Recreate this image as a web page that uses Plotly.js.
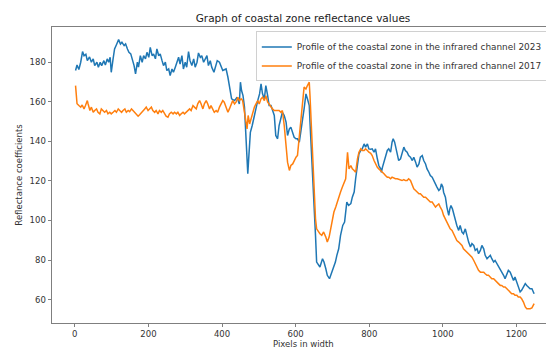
<!DOCTYPE html>
<html>
<head>
<meta charset="utf-8">
<script src="https://cdn.plot.ly/plotly-3.0.1.min.js"></script>
<style>
html, body { margin: 0; padding: 0; overflow: hidden; background: #fff; }
#chart { width: 570px; height: 349px; }
</style>
</head>
<body>
<div id="chart"></div>
<script>
// Pixel positions (x) and reflectance values, 2023 profile
const pixels2023 = [2,6,11,16,21,25,30,34,40,45,50,54,60,64,69,73,79,83,88,92,96,99,104,108,114,119,124,128,134,138,143,147,152,156,161,165,170,173,178,183,187,192,196,201,205,210,214,219,223,228,232,237,241,246,250,255,259,264,268,273,277,282,286,291,295,300,304,309,313,318,323,327,332,336,341,345,350,354,359,363,368,372,378,387,393,402,411,416,420,426,434,441,447,450,453,457,461,464,467,470,473,477,482,488,492,497,502,506,510,515,519,524,528,533,537,542,546,551,555,560,564,569,574,578,583,587,592,596,601,605,610,614,619,623,628,632,637,639,643,647,650,654,657,662,666,673,677,682,686,692,697,703,708,712,717,722,728,733,739,744,750,754,759,763,768,772,777,781,786,790,795,799,804,808,813,817,822,826,831,833,836,840,844,849,853,858,862,865,869,872,876,880,885,889,894,898,903,907,912,917,921,926,930,935,939,944,948,953,957,962,966,971,975,980,984,989,993,996,1000,1002,1007,1011,1016,1019,1022,1026,1029,1034,1038,1043,1047,1052,1056,1061,1065,1070,1075,1079,1084,1088,1093,1097,1102,1106,1111,1115,1120,1124,1129,1133,1138,1142,1147,1151,1156,1160,1165,1169,1174,1178,1183,1187,1192,1196,1201,1205,1210,1214,1219,1224,1228,1233,1237,1242,1246,1248];
const values2023 = [175.8,178.6,176.3,180,185.4,183.3,184,180.8,182.7,180,181.7,178.3,180,177.5,180,178.3,180.8,178.6,181.7,180,182.5,174.9,181.7,186.7,189.2,191.4,189.2,190.1,188.4,189.2,186.7,185,184.2,181.7,178.3,174.1,180,177.5,183.3,180,183.3,181.7,185,182.5,187.5,183.3,184.2,181.7,186.7,183.3,184.2,180.8,178.3,180,175.8,176.6,173.2,176.6,174.9,177.5,180,182.5,179.1,183.3,176.6,180,177.5,185.4,180.8,178.3,181.7,177.5,180,184.7,182.5,183.3,180,181.7,183.3,178.3,180.8,177.5,174.9,180.8,180,175.8,176.6,172.4,168.2,161.5,160.6,162.3,158.9,169.9,165.7,163.1,157.3,143,129.5,123.6,132.9,144.6,148,152.2,156.4,160.6,164,169,164,161.5,168.2,163.1,158.1,158.1,155.6,153.1,143,141.3,148,151.4,154.7,153.1,149.7,143,146.3,147.2,144.6,142.1,141.3,141.3,139.6,146.3,151.4,156.4,164,161.5,158.1,149.7,136.2,121.1,107.6,92.5,79,77.3,76.5,80.7,79,75.6,72.3,70.6,73.1,75.6,79,82.4,85.7,92.5,97.5,99.2,109.3,107.6,108.5,111.8,114.4,121.1,129.5,133.7,135.4,136.2,138.7,137.1,138.7,136.2,136,136.2,134.5,136.2,131.2,127.8,126.1,124.4,127,129.5,132.8,135.4,136.2,134.5,139.6,141.3,139.6,137.1,132.8,130.3,131.2,134.5,137.1,135.4,134.5,132.8,132,130.3,132,129.5,127,128.6,132,132.8,130.3,128.6,126.1,124.4,122.7,121.9,120.2,118.5,116.9,115.2,116,118.5,116.9,114.3,111.8,106.8,102.6,105.9,107.6,105.9,103.4,100,97.5,95,97.5,94.1,93.3,95.8,92.5,89.1,86.6,88.3,87.4,84.9,85.7,83.2,84.9,87.4,85.7,82.4,80.7,81.5,82.4,80.7,79,79.8,78.2,77.3,75.6,73.9,72.3,70.6,73.1,74.8,73.9,72.3,69.7,71.4,68.9,66.4,63.9,64.7,66.4,68.1,67.2,66.4,65.5,65.5,63.9,63];

// Pixel positions (x) and reflectance values, 2017 profile
const pixels2017 = [2,4,6,11,16,20,25,29,34,36,41,45,50,54,59,63,68,72,77,81,86,90,95,99,104,109,113,118,122,127,131,136,140,145,149,154,158,163,167,172,176,181,185,190,194,199,203,208,212,217,221,226,230,235,239,244,248,253,257,262,267,271,276,280,285,289,294,298,303,307,312,316,321,325,330,334,339,343,348,352,357,361,366,370,375,379,384,388,393,397,402,406,411,416,420,425,429,434,438,443,447,452,456,461,464,468,471,475,479,483,488,492,497,501,506,510,515,519,524,528,533,537,542,546,551,555,560,564,569,574,578,583,587,592,596,601,605,610,614,619,623,628,632,637,639,643,647,650,654,657,662,666,671,676,682,686,691,695,700,704,709,713,718,722,727,732,736,741,745,750,754,759,763,768,772,777,781,786,790,795,799,804,808,813,817,822,826,831,835,840,844,849,853,858,862,867,871,876,880,885,889,894,898,903,907,912,917,921,926,930,935,939,944,948,953,957,962,966,971,975,980,984,989,993,998,1002,1007,1011,1016,1020,1025,1029,1034,1038,1043,1047,1052,1056,1061,1065,1070,1075,1079,1084,1088,1093,1097,1102,1106,1111,1115,1120,1124,1129,1133,1138,1142,1147,1151,1156,1160,1165,1169,1174,1178,1183,1187,1192,1196,1201,1205,1210,1214,1219,1224,1228,1233,1237,1242,1246,1248];
const values2017 = [168.2,163.1,159,158.1,157.3,158.4,156.4,158.1,160.6,159,155.6,157.3,154.7,155.6,156.4,154.7,153.9,156.4,155.6,154.7,155.6,153.9,154.7,153.9,154.7,155.6,154.7,156.4,155.6,154.7,155.6,156.4,154.7,155.6,155,156.4,155.6,154.7,153.9,152.7,153.4,154.7,155.6,156.4,157.3,155.6,156.4,157.3,155.6,154.7,155.6,153.9,155.6,154.7,155.6,153.9,152.7,152.2,153.9,154.7,153.9,154.7,153.9,154.7,153.1,153.9,154.7,153.9,154.7,155.6,156.4,155.6,158.1,157.3,156.4,159,160.6,159,156.4,159,160.6,159,156.4,158.1,156.4,154.7,155.6,154.7,157.3,158.9,160.6,159.8,157.3,154.7,156.4,158.9,160.6,158.9,159.8,162.3,160.6,161.5,160.6,154.7,149.7,146.3,153.1,148.8,151.4,154.7,157.3,158.9,160.6,158.9,161.5,162.3,160.6,163.1,159.8,158.9,157.3,156.4,155.6,155.6,155.6,155.6,154.7,155.6,148,136.2,129.5,125.3,127.8,128.6,130.3,132,132.9,141.3,149.7,159.8,167.4,166.5,168.2,169.9,163.1,146.3,129.5,112.7,100.9,95.8,94.2,93.3,92.5,94.2,91.6,89.1,91.6,95.8,99.2,104.3,106.8,109.3,112.7,114.4,116.9,119.4,121.1,134.5,126.1,127.8,126.1,125.3,124.4,131.2,134.5,136.2,135.4,135.4,136.2,135.4,134.5,134,132.8,130.3,128.6,126.9,126.1,125.3,124.4,123.6,122.7,121.9,121.9,121.1,121.9,121.4,121.1,121.1,120.7,120.2,120.2,120.7,120.2,120.2,121.1,120.2,117.7,116,115.2,114.3,113.5,113.5,112.7,111.8,111.8,111,110.1,109.3,109.3,108.4,106.8,107.6,108.4,106.8,105.1,102.6,100.9,99.2,97.5,95.8,95,93.3,90.8,89.9,89.1,88.3,87.4,85.7,84.9,84.1,83.2,82.4,81.5,79.8,78.2,76.5,74.8,73.9,73.9,73.9,73.1,72.3,72.3,71.4,70.6,70.6,69.7,68.9,68.1,67.2,67.2,66.4,66.4,65.5,64.7,63.9,63,63,62.2,62.2,61.3,61.3,60.5,58.8,56.3,55.4,55.4,55.4,55.8,57.1,58];

const seriesNames = [
  "Profile of the coastal zone in the infrared channel 2023",
  "Profile of the coastal zone in the infrared channel 2017"
];
const yTickValues = [60, 80, 100, 120, 140, 160, 180];
const xTickValues = [0, 200, 400, 600, 800, 1000, 1200];
const xAxisTitle = "Pixels in width";
const yAxisTitle = "Reflectance coefficients";
const chartTitle = "Graph of coastal zone reflectance values";

const font = "DejaVu Sans, sans-serif";
const axisColor = "#7f7f7f";
const textColor = "#333333";

const traces = [
  { x: pixels2023, y: values2023, type: "scatter", mode: "lines", name: seriesNames[0],
    line: { color: "#1f77b4", width: 1.5 } },
  { x: pixels2017, y: values2017, type: "scatter", mode: "lines", name: seriesNames[1],
    line: { color: "#ff7f0e", width: 1.5 } }
];

const layout = {
  width: 570, height: 349,
  margin: { l: 52, r: 16, t: 27, b: 26, pad: 0 },
  paper_bgcolor: "#ffffff", plot_bgcolor: "#ffffff",
  font: { family: font, size: 8.5, color: textColor },
  title: { text: chartTitle, font: { family: font, size: 10.5, color: "#222222" },
           x: 0.5, xref: "paper", y: 1 - 18.5 / 349, yref: "container", yanchor: "middle" },
  xaxis: {
    range: [-62, 1302], tickvals: xTickValues, ticks: "outside", ticklen: 3, tickwidth: 1, tickcolor: axisColor,
    showline: true, mirror: true, linecolor: axisColor, linewidth: 1, showgrid: false, zeroline: false,
    tickfont: { family: font, size: 8.5, color: textColor }
  },
  yaxis: {
    range: [48.2, 197.8], tickvals: yTickValues, ticks: "outside", ticklen: 3.5, tickwidth: 1, tickcolor: axisColor,
    showline: true, mirror: true, linecolor: axisColor, linewidth: 1, showgrid: false, zeroline: false,
    tickfont: { family: font, size: 8.5, color: textColor },
    title: { text: yAxisTitle, font: { family: font, size: 8.5, color: textColor }, standoff: 5 }
  },
  annotations: [
    { text: xAxisTitle, xref: "paper", yref: "paper", x: 0.5, y: -(344 - 323) / 296,
      xanchor: "center", yanchor: "middle", showarrow: false, borderpad: 0,
      font: { family: font, size: 8.5, color: textColor } }
  ],
  showlegend: true,
  legend: {
    x: 0.406, y: 0.985, xanchor: "left", yanchor: "top",
    bgcolor: "rgba(255,255,255,0.9)", bordercolor: "#d0d0d0", borderwidth: 1,
    font: { family: font, size: 8.9, color: textColor }, tracegroupgap: 0
  }
};

Plotly.newPlot("chart", traces, layout, { displayModeBar: false, staticPlot: true });
</script>
</body>
</html>
